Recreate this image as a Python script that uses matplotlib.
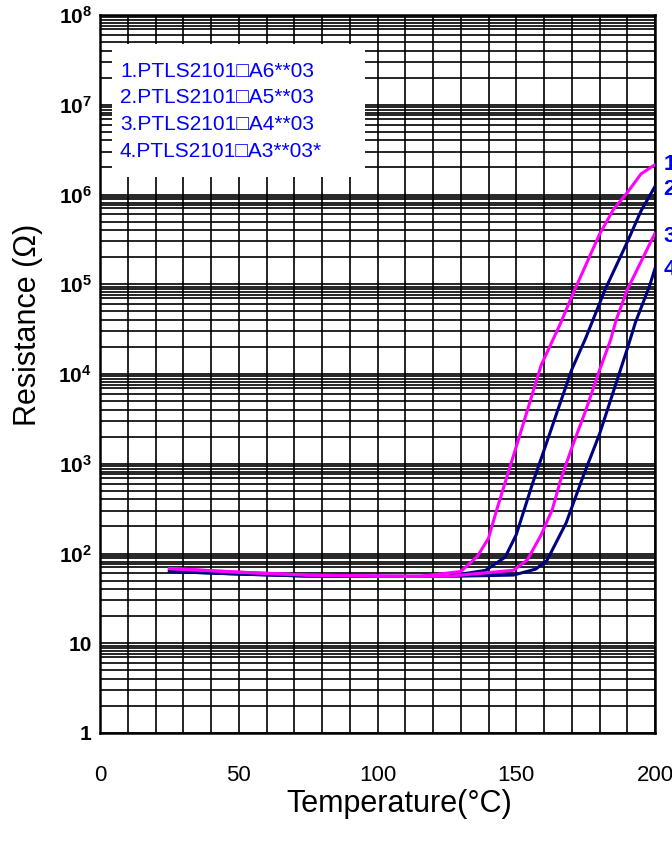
import matplotlib
matplotlib.use("Agg")
import matplotlib.pyplot as plt
from matplotlib.patches import Rectangle
from matplotlib.ticker import FixedLocator, NullFormatter
import numpy as np

plt.rcParams["font.family"] = ["Liberation Sans", "DejaVu Sans"]
plt.rcParams["mathtext.fontset"] = "custom"
plt.rcParams["mathtext.rm"] = "Liberation Sans"
plt.rcParams["mathtext.bf"] = "Liberation Sans:bold"

# ---------- Data ----------
t1 = [25, 50, 75, 100, 115, 130, 136, 140, 143, 150, 159, 166, 170, 180, 185, 190, 195, 200]
r1 = [68, 62, 57.5, 56, 55.6, 63, 93, 148, 310, 1550, 1.26e4, 3.7e4, 7.3e4, 3.6e5,
      6.8e5, 1.05e6, 1.7e6, 2.15e6]

t2 = [25, 50, 75, 100, 125, 139, 146, 150, 156, 160, 165, 170, 175, 182, 190, 195, 200]
r2 = [63, 59, 56, 55.6, 55.6, 65, 91, 162, 620, 1410, 4000, 1.12e4, 2.5e4, 8.7e4,
      2.95e5, 6.6e5, 1.23e6]

t3 = [25, 50, 75, 100, 125, 149, 154, 159, 163, 166, 170, 175, 180, 184, 186, 190, 200]
r3 = [68, 62, 57.5, 56, 55.6, 65, 85, 162, 310, 660, 1500, 3900, 1.1e4, 2.4e4,
      4e4, 8.7e4, 3.7e5]

t4 = [25, 50, 75, 100, 125, 149, 157, 161, 168, 174, 180, 190, 193, 198, 200]
r4 = [63, 59, 56, 55.6, 55.6, 57.5, 67, 83, 220, 710, 2140, 1.9e4, 3.8e4, 9.5e4, 1.5e5]

legend_lines = ["1.PTLS2101\u25a1A6**03",
                "2.PTLS2101\u25a1A5**03",
                "3.PTLS2101\u25a1A4**03",
                "4.PTLS2101\u25a1A3**03*"]
curve_tags = ["1", "2", "3", "4"]

x_ticks = [0, 50, 100, 150, 200]
y_decades = [1, 10, 1e2, 1e3, 1e4, 1e5, 1e6, 1e7, 1e8]
y_labels = ["1", "10"] + [r"$\mathbf{10^{%d}}$" % k for k in range(2, 9)]
# minor grid lines inside each decade (as printed on the chart paper)
minor_mult = [2, 3, 4, 5, 6, 7, 7.6, 8.1, 8.8, 9.4]

MAGENTA = "#FF00FF"
NAVY = "#000080"
BLUE = "#0000FF"

# ---------- Figure ----------
fig = plt.figure(figsize=(6.72, 8.43), dpi=100)
ax = fig.add_axes([100 / 672, 1 - 733 / 843, 555 / 672, 718 / 843])
ax.set_yscale("log")
ax.set_xlim(0, 200)
ax.set_ylim(1, 1e8)

ax.set_xticks(x_ticks)
ax.set_xticklabels([str(v) for v in x_ticks], fontsize=16)
ax.xaxis.set_minor_locator(FixedLocator(np.arange(0, 201, 10)))
ax.set_yticks(y_decades)
ax.set_yticklabels(y_labels, fontsize=15, fontweight="bold")
minors = [m * d for d in y_decades[:-1] for m in minor_mult]
ax.yaxis.set_minor_locator(FixedLocator(minors))
ax.yaxis.set_minor_formatter(NullFormatter())
ax.tick_params(which="both", length=0)
ax.tick_params(axis="x", pad=23)
ax.tick_params(axis="y", pad=6)

ax.grid(which="both", color="black", linewidth=1.2)
ax.set_axisbelow(True)
for sp in ax.spines.values():
    sp.set_linewidth(1.8)

# white box behind the legend text
ax.add_patch(Rectangle((4.3, 1.57e6), 91.2, 4.75e7 - 1.57e6,
                       facecolor="white", edgecolor="none", zorder=1.5))

for t, r, c in [(t4, r4, NAVY), (t2, r2, NAVY), (t3, r3, MAGENTA), (t1, r1, MAGENTA)]:
    ax.plot(t, r, color=c, linewidth=2.2, zorder=3)

legend_y = [10 ** 7.37, 10 ** 7.08, 10 ** 6.78, 10 ** 6.48]
for txt, yy in zip(legend_lines, legend_y):
    ax.text(7.2, yy, txt, color=BLUE, fontsize=15, va="center", ha="left", zorder=4)

tag_y = [10 ** 6.33, 10 ** 6.06, 10 ** 5.53, 10 ** 5.16]
for tag, yy in zip(curve_tags, tag_y):
    ax.text(203.0, yy, tag, color=BLUE, fontsize=16, fontweight="bold",
            va="center", ha="left", clip_on=False)

ax.set_xlabel("Temperature(\u00b0C)", fontsize=22)
ax.xaxis.set_label_coords(0.54, -0.078)
ax.set_ylabel("Resistance (\u03a9)", fontsize=22)
ax.yaxis.set_label_coords(-0.103, 0.568)

fig.savefig("out.png", dpi=100)
